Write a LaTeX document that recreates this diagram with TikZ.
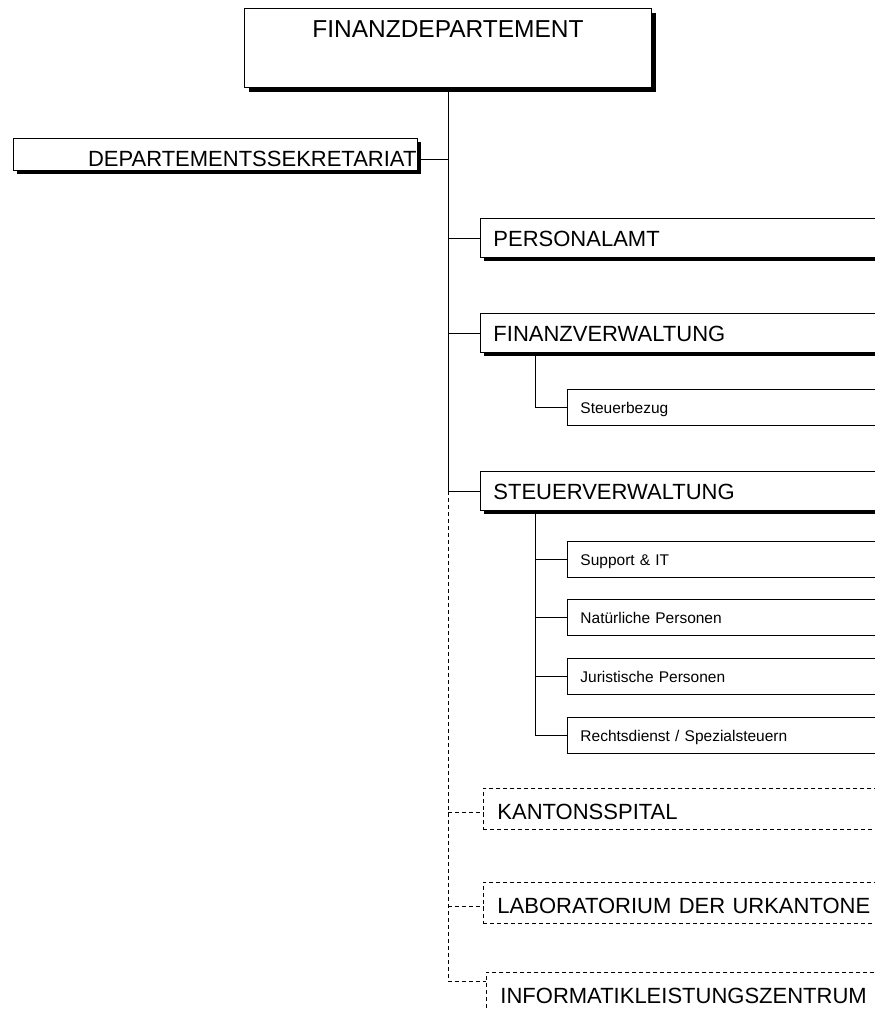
\documentclass[tikz,border=0pt]{standalone}
\usepackage{fontspec}
\setmainfont{Liberation Sans}
\usetikzlibrary{shadows}

\tikzset{
	kasten/.style={draw, line width=0.9pt, fill=white, anchor=north west, inner ysep=0pt},
	haupt/.style={kasten, font=\fontsize{24.5}{28}\selectfont, inner xsep=0pt, text width=407pt, align=center, text height=29pt, text depth=50pt,
		drop shadow={shadow xshift=5pt, shadow yshift=-5pt, fill=black, opacity=1}},
	amt/.style={kasten, font=\fontsize{22}{26}\selectfont, inner xsep=13pt, text width=380pt, align=left, text height=28pt, text depth=11pt,
		drop shadow={shadow xshift=4pt, shadow yshift=-4pt, fill=black, opacity=1}},
	abteilung/.style={kasten, font=\fontsize{15.5}{18}\selectfont, inner xsep=13pt, text width=300pt, align=left, text height=24pt, text depth=12pt},
	extern/.style={kasten, dash pattern=on 4pt off 3pt, font=\fontsize{22}{26}\selectfont, inner xsep=14pt, text width=380pt, align=left, text height=31pt, text depth=10pt},
	linie/.style={line width=0.9pt},
	strich/.style={line width=0.9pt, dash pattern=on 4pt off 3pt}
}

\begin{document}
\begin{tikzpicture}[x=1pt,y=-1pt]
	\clip (0,0) rectangle (875,1010);
	
	%Department at the top
	\node[haupt] (fd) at (244,8) {FINANZDEPARTEMENT};
	\node[amt, text width=402pt, inner xsep=1pt, align=right, text height=28pt, text depth=4pt] (ds) at (13,138) {DEPARTEMENTSSEKRETARIAT};
	
	%Offices
	\node[amt] (pa) at (480,218) {PERSONALAMT};
	\node[amt] (fv) at (480,313) {FINANZVERWALTUNG};
	\node[amt] (sv) at (480,471) {STEUERVERWALTUNG};
	
	%Sections
	\node[abteilung] (sb) at (567,389) {Steuerbezug};
	\foreach \y/\name/\txt in {541/sit/{Support \& IT}, 599/np/{Natürliche Personen}, 658/jp/{Juristische Personen}, 717/rd/{Rechtsdienst / Spezialsteuern}}
	\node[abteilung] (\name) at (567,\y) {\txt};
	
	%Attached units
	\node[extern] (ks) at (483,788) {KANTONSSPITAL};
	\node[extern] (lu) at (483,882) {LABORATORIUM DER URKANTONE};
	\node[extern] (ilz) at (486,972) {INFORMATIKLEISTUNGSZENTRUM};
	
	%Line ends
	\coordinate (dsc) at ([yshift=-5pt]ds.east);
	\coordinate (ksc) at ([yshift=-3pt]ks.west);
	\coordinate (luc) at ([yshift=-3pt]lu.west);
	\coordinate (ilzc) at ([yshift=12pt]ilz.west);
	
	%Solid lines
	\draw[linie] (fd.south) -- (fd.south |- sv.west);
	\draw[linie] (fd.south |- dsc) -- (dsc);
	\foreach \n in {pa,fv,sv}
	\draw[linie] (fd.south |- \n.west) -- (\n.west);
	\draw[linie] ([xshift=55pt]fv.south west) |- (sb.west);
	\draw[linie] ([xshift=55pt]sv.south west) |- (rd.west);
	\foreach \n in {sit,np,jp}
	\draw[linie] ([xshift=55pt]sv.south west |- \n.west) -- (\n.west);
	
	%Dashed lines
	\draw[strich] (fd.south |- sv.west) |- (ilzc);
	\foreach \n in {ksc,luc}
	\draw[strich] (fd.south |- \n) -- (\n);
	
\end{tikzpicture}
\end{document}
